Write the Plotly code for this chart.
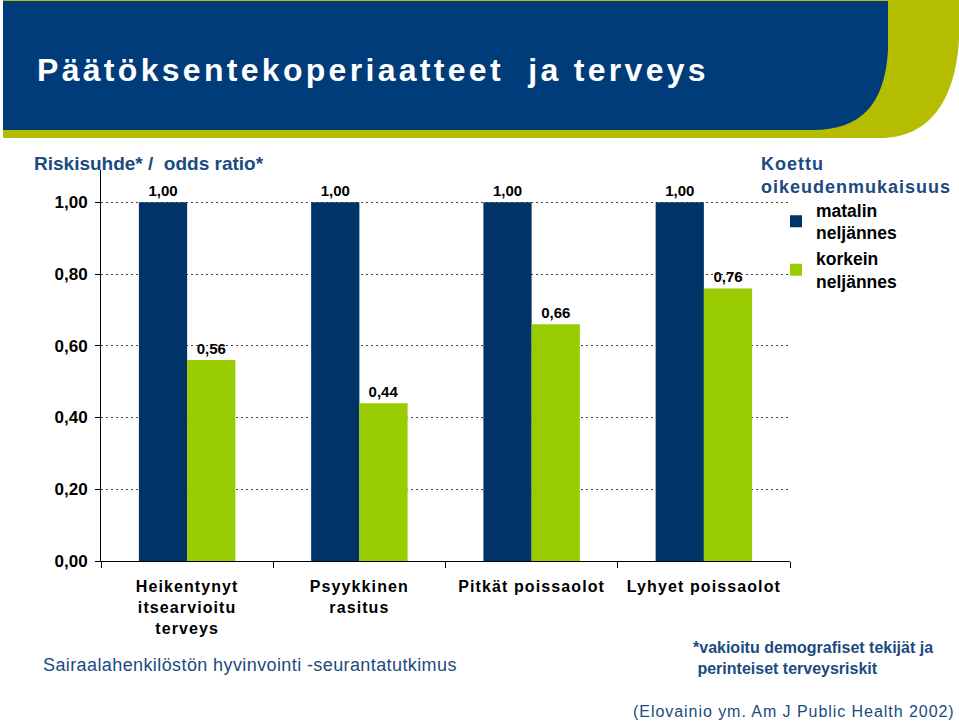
import plotly.graph_objects as go

categories = ["Heikentynyt<br>itsearvioitu<br>terveys", "Psyykkinen<br>rasitus",
              "Pitkät poissaolot", "Lyhyet poissaolot"]
series_names = ["matalin<br>neljännes", "korkein<br>neljännes"]
low_quartile = [1.00, 1.00, 1.00, 1.00]
high_quartile = [0.56, 0.44, 0.66, 0.76]
y_ticks = [0.0, 0.2, 0.4, 0.6, 0.8, 1.0]

BLUE_BAR = "#003366"
GREEN_BAR = "#99CC00"
HEAD_BLUE = "#003B7A"
HEAD_GREEN = "#B5BD00"
TEXT_BLUE = "#1B4A80"

W, H = 959, 721
L, R, T, B = 101, 169, 170, 160
PW, PH = W - L - R, H - T - B

def px(x):
    return (x - L) / PW

def py(y):
    return (H - B - y) / PH

def spaced(label, ls):
    return "<br>".join(f'<span style="letter-spacing:{ls}px">{part}</span>'
                       for part in label.split("<br>"))

fig = go.Figure()
for vals, name, color in [(low_quartile, series_names[0], BLUE_BAR),
                          (high_quartile, series_names[1], GREEN_BAR)]:
    fig.add_trace(go.Bar(
        x=categories, y=vals, name=name, marker=dict(color=color, line=dict(width=0)),
        text=[f"{v:.2f}".replace(".", ",") for v in vals], textposition="outside",
        textfont=dict(family="Liberation Sans", size=15, color="black", weight="bold"),
        cliponaxis=False))

shapes = [
    dict(type="path", xref="paper", yref="paper", layer="below", line=dict(width=0),
         fillcolor=HEAD_GREEN,
         path=(f"M {px(3)},{py(0)} L {px(959)},{py(0)} L {px(959)},{py(40)} "
               f"C {px(955)},{py(100)} {px(930)},{py(138)} {px(880)},{py(138)} "
               f"L {px(3)},{py(138)} Z")),
    dict(type="path", xref="paper", yref="paper", layer="below", line=dict(width=0),
         fillcolor=HEAD_BLUE,
         path=(f"M {px(3)},{py(1)} L {px(888)},{py(1)} L {px(888)},{py(50)} "
               f"C {px(885)},{py(105)} {px(860)},{py(130)} {px(813)},{py(130)} "
               f"L {px(3)},{py(130)} Z")),
]

annotations = [
    dict(text='<span style="letter-spacing:3.3px">Päätöksentekoperiaatteet  ja terveys</span>',
         x=px(35), y=py(70), xref="paper", yref="paper", xanchor="left", yanchor="middle",
         showarrow=False,
         font=dict(family="Liberation Sans", size=32, color="white", weight="bold")),
    dict(text="Riskisuhde* /  odds ratio*",
         x=px(32), y=py(163), xref="paper", yref="paper",
         xanchor="left", yanchor="middle", showarrow=False,
         font=dict(family="Liberation Sans", size=19, color=TEXT_BLUE, weight="bold")),
    dict(text='<span style="letter-spacing:1px">Koettu<br>oikeudenmukaisuus</span>',
         x=px(759), y=py(175), xref="paper", yref="paper", xanchor="left", yanchor="middle",
         align="left", showarrow=False,
         font=dict(family="Liberation Sans", size=18, color=TEXT_BLUE, weight="bold")),
    dict(text='<span style="letter-spacing:0.4px">Sairaalahenkilöstön hyvinvointi -seurantatutkimus</span>',
         x=px(41), y=py(665), xref="paper", yref="paper", xanchor="left", yanchor="middle",
         showarrow=False, font=dict(family="Liberation Sans", size=18, color=TEXT_BLUE)),
    dict(text="*vakioitu demografiset tekijät ja<br> perinteiset terveysriskit", x=px(691), y=py(658),
         xref="paper", yref="paper", xanchor="left", yanchor="middle", align="left", showarrow=False,
         font=dict(family="Liberation Sans", size=16, color=TEXT_BLUE, weight="bold")),
    dict(text='<span style="letter-spacing:0.95px">(Elovainio ym. Am J Public Health 2002)</span>',
         x=px(957), y=py(711), xref="paper", yref="paper", xanchor="right", yanchor="middle",
         showarrow=False, font=dict(family="Liberation Sans", size=16, color=TEXT_BLUE)),
]

fig.update_layout(
    width=W, height=H, margin=dict(l=L, r=R, t=T, b=B, pad=0),
    paper_bgcolor="white", plot_bgcolor="white",
    separators=", ",
    barmode="group", bargap=0.44, bargroupgap=0.0,
    font=dict(family="Liberation Sans", color="black"),
    shapes=shapes, annotations=annotations,
    showlegend=True,
    legend=dict(
        x=px(776), y=py(192), xanchor="left", yanchor="top", bgcolor="rgba(0,0,0,0)",
        font=dict(family="Liberation Sans", size=17.5, color="black", weight="bold"),
        itemsizing="constant", tracegroupgap=16, itemwidth=30,
    ),
    xaxis=dict(
        showline=True, linecolor="black", linewidth=1, ticks="outside", tickson="boundaries",
        ticklen=6, tickcolor="black", showgrid=False, ticklabelstandoff=11,
        tickmode="array", tickvals=categories,
        ticktext=[spaced(c, 1.1) for c in categories],
        tickfont=dict(family="Liberation Sans", size=16, color="black", weight="bold"),
    ),
    yaxis=dict(
        range=[0, 1.09], tickvals=y_ticks, tickformat=".2f",
        showline=True, linecolor="black", linewidth=1, ticks="outside", ticklen=5,
        tickcolor="black", showgrid=True, gridcolor="#444444", griddash="2px,3px", gridwidth=1,
        zeroline=False, ticklabelstandoff=4,
        tickfont=dict(family="Liberation Sans", size=17, color="black", weight="bold"),
    ),
)

fig.write_html("out.html", config={"displayModeBar": False},
               post_script="document.body.style.margin='0';")
